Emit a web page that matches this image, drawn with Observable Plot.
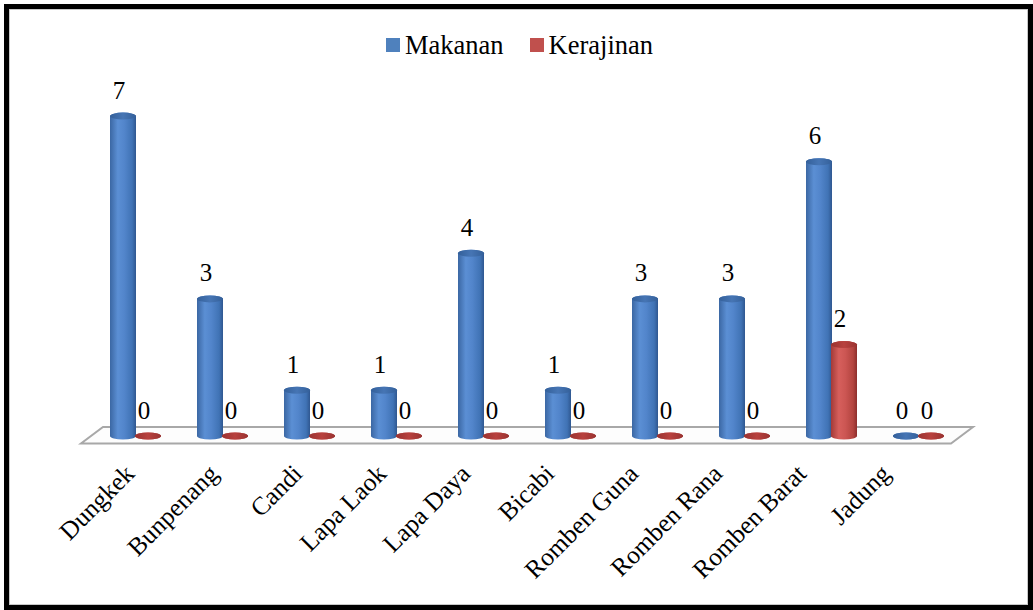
<!DOCTYPE html>
<html>
<head>
<meta charset="utf-8">
<script src="https://cdn.jsdelivr.net/npm/d3@7"></script>
<script src="https://cdn.jsdelivr.net/npm/@observablehq/plot@0.6"></script>
<style>
  html, body { margin: 0; padding: 0; background: #fff; }
  #wrap { position: relative; width: 1033px; height: 610px; overflow: hidden; }
  #frame { position: absolute; left: 4px; top: 4px; width: 1029px; height: 606px; box-sizing: border-box;
           border: 5px solid #000; box-shadow: inset 0 0 0 1px #c8c8c8; background: #fff; }
  #chart { position: absolute; left: 0; top: 0; }
  #legend { position: absolute; left: 386px; top: 31px; display: flex; align-items: center;
            font-family: "Liberation Serif", "Times New Roman", serif; font-size: 26.5px; line-height: 28px; color: #000; }
  #legend .sw { width: 14px; height: 14px; margin-right: 5px; }
  #legend .item { display: flex; align-items: center; margin-right: 26px; }
</style>
</head>
<body>
<div id="wrap">
  <div id="frame"></div>
  <div id="chart"></div>
  <div id="legend"></div>
</div>
<script>
const categories = ["Dungkek", "Bunpenang", "Candi", "Lapa Laok", "Lapa Daya", "Bicabi", "Romben Guna", "Romben Rana", "Romben Barat", "Jadung"];
const makanan   = [7, 3, 1, 1, 4, 1, 3, 3, 6, 0];
const kerajinan = [0, 0, 0, 0, 0, 0, 0, 0, 2, 0];
const seriesNames = ["Makanan", "Kerajinan"];
const seriesColors = ["#4f81bd", "#c0504d"];

const serif = '"Liberation Serif", "Times New Roman", serif';
const blueRows = categories.map((c, i) => ({category: c, series: seriesNames[0], value: makanan[i]}));
const redRows  = categories.map((c, i) => ({category: c, series: seriesNames[1], value: kerajinan[i]}));

const ry = 3.5;
const blueInset = {insetLeft: 18, insetRight: 43};
const redInset  = {insetLeft: 43, insetRight: 18};

function body(rows, fill, inset) {
  return Plot.barY(rows, {x: "category", y1: 0, y2: "value", fill, rx: 13, ry,
    insetTop: -ry, insetBottom: -ry, ...inset});
}
function cap(rows, fill, inset) {
  return Plot.barY(rows, {x: "category", y1: "value", y2: "value", fill, rx: 13, ry,
    insetTop: -ry, insetBottom: -ry, ...inset});
}
function labels(rows, dx) {
  return Plot.text(rows, {x: "category", y: "value", text: d => String(d.value),
    dx, dy: -26, fontSize: 25, fontFamily: serif, fill: "#000"});
}

const plot = Plot.plot({
  width: 1033,
  height: 610,
  marginLeft: 0,
  marginRight: 0,
  marginTop: 0,
  marginBottom: 144,
  style: {background: "transparent", fontFamily: serif, overflow: "visible"},
  x: {type: "band", domain: categories, range: [92, 962], padding: 0, axis: null},
  y: {domain: [0, 7], range: [436, 436 - 7 * 45.7], axis: null},
  marks: [
    body(blueRows, "url(#gradBlue)", blueInset),
    cap(blueRows, "url(#capBlue)", blueInset),
    body(redRows, "url(#gradRed)", redInset),
    cap(redRows, "url(#capRed)", redInset),
    labels(blueRows, -17),
    labels(redRows, 8),
    Plot.axisX({tickRotate: -45, tickSize: 0, tickPadding: 3, fontSize: 25.5, fontFamily: serif,
      fill: "#000", dx: -6, label: null})
  ]
});

document.getElementById("chart").appendChild(plot);

const svg = d3.select(plot);

// perspective drift of the category labels (they converge slightly toward the left)
svg.selectAll('g[aria-label="x-axis tick label"] text').each(function (d, i) {
  const t = this.getAttribute("transform") || "";
  this.setAttribute("transform", `translate(${-3 * i},0) ${t}`);
});

// gradients
const defs = svg.insert("defs", ":first-child");
function grad(id, stops) {
  const g = defs.append("linearGradient").attr("id", id).attr("x1", "0").attr("x2", "1").attr("y1", "0").attr("y2", "0");
  stops.forEach(([o, c]) => g.append("stop").attr("offset", o).attr("stop-color", c));
}
grad("gradBlue", [[0, "#3b67a3"], [0.3, "#5b8fd4"], [0.55, "#5285cb"], [0.85, "#4073b5"], [1, "#2f5790"]]);
grad("gradRed",  [[0, "#a33a38"], [0.3, "#d65f5c"], [0.55, "#cc5653"], [0.85, "#b3443f"], [1, "#8c2e2c"]]);
grad("capBlue",  [[0, "#34609a"], [0.5, "#4675b4"], [1, "#34609a"]]);
grad("capRed",   [[0, "#9a3331"], [0.5, "#b8413e"], [1, "#9a3331"]]);

// floor platform derived from scales
const xs = plot.scale("x").range;
const y0 = plot.scale("y").apply(0);
const back = y0 - 9, front = y0 + 7.5, skew = 11;
const floorPath = d3.path();
floorPath.moveTo(xs[0] + skew, back);
floorPath.lineTo(xs[1] + skew, back);
floorPath.lineTo(xs[1] - skew, front);
floorPath.lineTo(xs[0] - skew, front);
floorPath.closePath();
svg.insert("path", "g").attr("d", floorPath.toString()).attr("fill", "#fdfdfd")
  .attr("stroke", "#a8a8a8").attr("stroke-width", 2).attr("stroke-linejoin", "miter");

// legend
const legend = d3.select("#legend");
seriesNames.forEach((name, i) => {
  const item = legend.append("div").attr("class", "item");
  item.append("div").attr("class", "sw").style("background", seriesColors[i]);
  item.append("span").text(name);
});
</script>
</body>
</html>
